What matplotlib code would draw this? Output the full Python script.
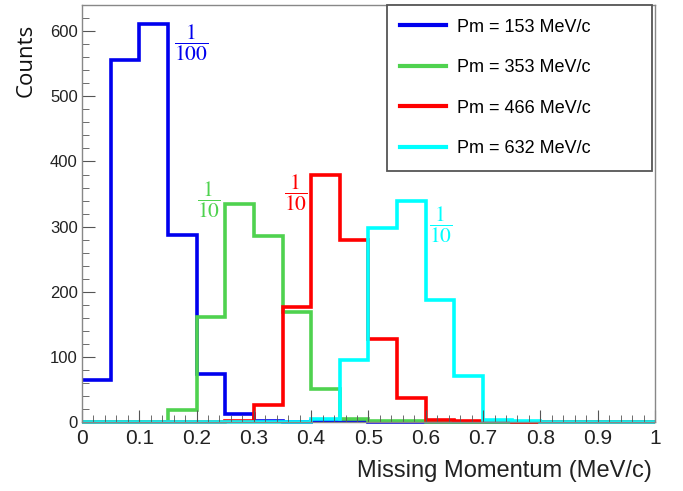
import numpy as np
import matplotlib
matplotlib.use("Agg")
import matplotlib.pyplot as plt
from matplotlib.ticker import MultipleLocator

edges = np.round(np.arange(0, 1.0001, 0.05), 2)
labels = ["Pm = 153 MeV/c", "Pm = 353 MeV/c", "Pm = 466 MeV/c", "Pm = 632 MeV/c"]
colors = ["#0000ee", "#4fd24f", "#ff0000", "#00ffff"]
blue = [64, 556, 611, 287, 74, 12, 2, 0, 1, 2, 0, 0, 0, 0, 0, 0, 0, 0, 0, 0]
green = [0, 0, 0, 18, 161, 334, 286, 169, 51, 5, 1, 1, 0, 0, 0, 0, 0, 0, 0, 0]
red = [0, 0, 0, 0, 0, 2, 26, 176, 379, 280, 127, 37, 3, 1, 1, 0.5, 0, 0, 0, 0]
cyan = [0, 0, 0, 0, 0, 0, 0, 0, 4, 95, 298, 339, 188, 71, 3, 1, 0, 0, 0, 0]
series = [blue, green, red, cyan]
scale_text = [r"$\dfrac{1}{100}$", r"$\dfrac{1}{10}$", r"$\dfrac{1}{10}$", r"$\dfrac{1}{10}$"]
scale_pos = [(0.19, 582), (0.222, 342), (0.373, 352), (0.626, 303)]

plt.rcParams["mathtext.fontset"] = "stix"
fig = plt.figure(figsize=(6.83, 4.91), dpi=100)
ax = fig.add_axes([0.12, 0.1405, 0.839, 0.849])

for vals, c, lab in zip(series, colors, labels):
    ax.stairs(vals, edges, color=c, lw=2.6, label=lab, baseline=None, clip_on=False)

for t, (x, y), c in zip(scale_text, scale_pos, colors):
    ax.text(x, y, t, color=c, fontsize=15.5, ha="center", va="center")

ax.set_xlim(0, 1)
ax.set_ylim(0, 640)
ax.xaxis.set_major_locator(MultipleLocator(0.1))
ax.xaxis.set_minor_locator(MultipleLocator(0.02))
ax.yaxis.set_major_locator(MultipleLocator(100))
ax.yaxis.set_minor_locator(MultipleLocator(20))
ax.tick_params(which="both", direction="in", top=False, right=False, color="#555555")
ax.tick_params(which="major", length=9)
ax.tick_params(which="minor", length=5)
ax.tick_params(axis="x", labelsize=15, pad=5)
ax.tick_params(axis="y", labelsize=12, pad=3)
ax.xaxis.set_major_formatter(matplotlib.ticker.FuncFormatter(lambda v, p: f"{v:g}"))
for lbl in ax.get_xticklabels() + ax.get_yticklabels():
    lbl.set_family("Liberation Sans")
    lbl.set_color("#222222")
for s in ax.spines.values():
    s.set_color("#888888")
    s.set_linewidth(1.0)

ax.set_xlabel("Missing Momentum (MeV/c)", fontsize=17, family="Liberation Sans", color="#222222")
ax.xaxis.set_label_coords(0.995, -0.09)
ax.xaxis.label.set_ha("right")
ax.xaxis.label.set_va("top")
ax.set_ylabel("")
fig.text(26 / 683, 1 - 60 / 491, "Counts", rotation=90, fontsize=16, family="Open Sans",
         color="#111111", ha="center", va="center")

leg = ax.legend(loc="upper left", bbox_to_anchor=(0.532, 0.621, 0.4625, 0.379), mode="expand",
                borderaxespad=0,
                prop={"family": "Liberation Sans", "size": 13},
                handlelength=2.55, handletextpad=0.6, labelspacing=1.3,
                borderpad=0.75, fancybox=False, framealpha=1, edgecolor="#555555")
leg.get_frame().set_linewidth(1.3)
for h in leg.get_lines():
    h.set_linewidth(3)

fig.savefig("out.png", dpi=100)
